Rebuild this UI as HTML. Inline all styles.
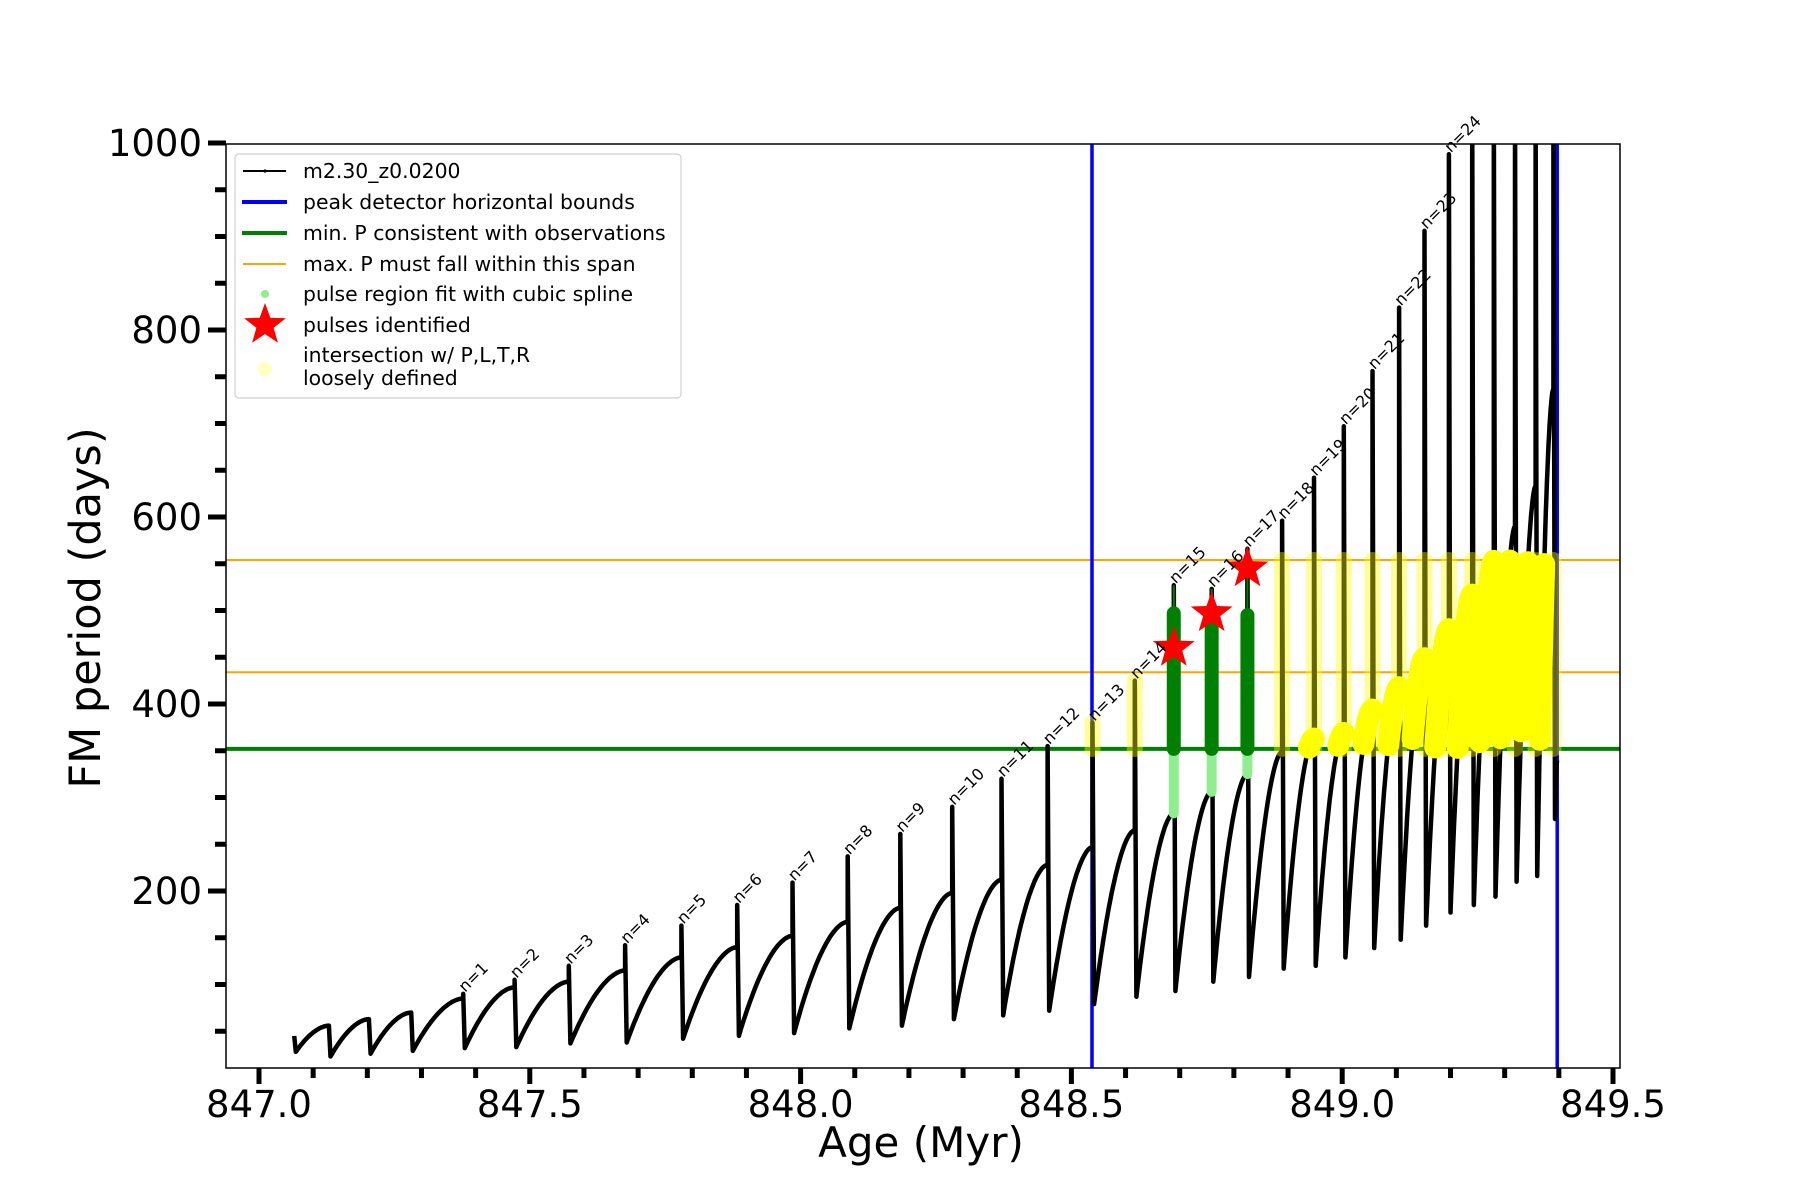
<!DOCTYPE html>
<html><head><meta charset="utf-8">
<style>
html,body{margin:0;padding:0;background:#fff;}
svg{display:block;font-family:"DejaVu Sans","Liberation Sans",sans-serif;}
</style></head>
<body>
<svg id="chart" width="1800" height="1200" viewBox="0 0 1800 1200" xmlns="http://www.w3.org/2000/svg">
<rect x="0" y="0" width="1800" height="1200" fill="#fff"/>
<g id="plot"></g>
<g id="axes"></g>
<g id="legend">
  <rect x="235" y="154" width="446" height="244" rx="4" fill="#fff" fill-opacity="0.85" stroke="#d0d0d0" stroke-width="1.2"/>
  <g>
    <line x1="243" y1="171" x2="286" y2="171" stroke="#000" stroke-width="2"/><circle cx="265" cy="171" r="1.6" fill="#000"/>
    <text x="303" y="178" font-size="20.4">m2.30_z0.0200</text></g>
  <g>
    <line x1="242" y1="202" x2="287" y2="202" stroke="#0000ff" stroke-width="4"/>
    <text x="303" y="209" font-size="20.4">peak detector horizontal bounds</text></g>
  <g>
    <line x1="242" y1="233" x2="287" y2="233" stroke="#008000" stroke-width="4"/>
    <text x="303" y="240" font-size="20.4">min. P consistent with observations</text></g>
  <g>
    <line x1="243" y1="264" x2="286" y2="264" stroke="#ffa500" stroke-width="2"/>
    <text x="303" y="271" font-size="20.4">max. P must fall within this span</text></g>
  <g>
    <circle cx="265" cy="294" r="4" fill="#90ee90"/>
    <text x="303" y="301" font-size="20.4">pulse region fit with cubic spline</text></g>
  <g>
    <polygon id="legstar" fill="#ff0000"/>
    <text x="303" y="332" font-size="20.4">pulses identified</text></g>
  <g>
    <circle cx="265" cy="369" r="7" fill="#ffff00" fill-opacity="0.25"/>
    <text x="303" y="362" font-size="20.4">intersection w/ P,L,T,R</text>
    <text x="303" y="385" font-size="20.4">loosely defined</text></g>
</g>
</svg>
<script>
// ---- data ----
const startAge = 847.065;
const startPeriod = 45;
const dropAges = [847.129,847.203,847.281,847.377,847.472,847.572,847.676,847.780,847.883,847.985,848.087,848.184,848.280,848.371,848.456,848.539,848.617,848.689,848.759,848.825,848.889,848.948,849.003,849.056,849.105,849.152,849.197,849.240,849.280,849.319,849.357,849.390];
const preDropPeak = [56,63,70,85,97,103,115,129,140,152,167,182,198,212,228,247,265,283,306,325,349,363,369,394,418,449,480,517,553,590,633,737];
const spikeTop = [0,0,0,90,105,120,142,163,185,209,237,261,290,320,355,380,425,527,523,566,596,642,697,756,824,906,988,1050,1050,1050,1050,1050];
const troughs = [23,26,29,32,33,37,38,42,45,48,53,56,63,67,72,79,87,93,103,108,117,120,129,139,148,163,177,185,194,210,216,277];
const endAge = 849.397;
const endPeriod = 340;
const labelIdx = [3,4,5,6,7,8,9,10,11,12,13,14,15,16,17,18,19,20,21,22,23,24,25,26];
const greenIdx = [17,18,19];
const greenTop = [497,491,495];
const starAges = [848.689,848.759,848.825];
const starPeriods = [460,497,545];
const blueBounds = [848.538,849.397];
const minP = 352;
const maxPSpan = [434,554];
const xTicksMajor = [847.0,847.5,848.0,848.5,849.0,849.5];
const xTickLabels = ["847.0","847.5","848.0","848.5","849.0","849.5"];
const yTicksMajor = [200,400,600,800,1000];
const yTickLabels = ["200","400","600","800","1000"];

// ---- scales ----
const L=226,R=1620,T=144,B=1068;
function X(a){return 259+(a-847)*541.6;}
function Y(p){return 143+(1000-p)*0.935;}
const NS="http://www.w3.org/2000/svg";
const plot=document.getElementById('plot');
const axes=document.getElementById('axes');
function mk(tag,attrs,parent){const e=document.createElementNS(NS,tag);for(const k in attrs)e.setAttribute(k,attrs[k]);(parent||plot).appendChild(e);return e;}
function clamp(p){return Math.max(Math.min(p,1060),5);}

const defs=mk('defs',{});
const cp=mk('clipPath',{id:'clip'},defs);
mk('rect',{x:L,y:T,width:R-L,height:B-T},cp);
const g=mk('g',{'clip-path':'url(#clip)'});

let ln;
ln=mk('line',{x1:L,x2:R,y1:Y(minP),y2:Y(minP),stroke:'#008000','stroke-width':4},g);

maxPSpan.forEach((p,i)=>{const l=mk('line',{x1:L,x2:R,y1:Y(p),y2:Y(p),stroke:'#ffa500','stroke-width':2},g);

});
blueBounds.forEach(a=>{const l=mk('line',{x1:X(a),x2:X(a),y1:T,y2:B,stroke:'#0000ff','stroke-width':3.5},g);

});

function shape(u){return 1-Math.pow(1-u,1.8);}
let d='M'+X(startAge)+','+Y(startPeriod)+' L'+X(startAge+0.003)+','+Y(28);
let prevAge=startAge+0.003, prevP=28;
const segs=[];
for(let i=0;i<dropAges.length;i++){
  const a0=prevAge,a1=dropAges[i],p0=prevP,p1=preDropPeak[i];
  const pts=[];
  for(let k=1;k<=30;k++){const u=k/30;pts.push([a0+(a1-a0)*u,p0+(p1-p0)*shape(u)]);}
  segs.push([[a0,p0]].concat(pts));
  pts.forEach(q=>{d+=' L'+X(q[0]).toFixed(1)+','+Y(q[1]).toFixed(1);});
  const top=spikeTop[i]||preDropPeak[i];
  d+=' L'+X(a1).toFixed(1)+','+Y(clamp(top)).toFixed(1);
  d+=' L'+X(a1+0.003).toFixed(1)+','+Y(troughs[i]).toFixed(1);
  prevAge=a1+0.003;prevP=troughs[i];
}
{const pts=[];for(let k=1;k<=10;k++){const u=k/10;pts.push([prevAge+(endAge-prevAge)*u,prevP+(endPeriod-prevP)*shape(u)]);}
pts.forEach(q=>{d+=' L'+X(q[0]).toFixed(1)+','+Y(q[1]).toFixed(1);});}
const curve=mk('path',{d:d,fill:'none',stroke:'#000','stroke-width':4.5,'stroke-linejoin':'round'},g);



for(let i=0;i<dropAges.length;i++){
  if(dropAges[i]<blueBounds[0]-0.01||dropAges[i]>blueBounds[1])continue;
  if(greenIdx.indexOf(i)>=0)continue;
  const top=Math.min(spikeTop[i]||0,maxPSpan[1]);
  if(top<=minP)continue;
  const c=mk('line',{x1:X(dropAges[i]),x2:X(dropAges[i]),y1:Y(minP),y2:Y(top),stroke:'#ffff00','stroke-width':16,'stroke-opacity':0.4,'stroke-linecap':'round'},g);
  
  
}
segs.forEach((s,i)=>{
  const a1=dropAges[i];
  if(a1<blueBounds[0])return;
  let path='',on=false;
  s.forEach(q=>{
    if(q[1]>=minP&&q[1]<=maxPSpan[1]+6){path+=(on?' L':' M')+X(q[0]).toFixed(1)+','+Y(q[1]).toFixed(1);on=true;}else on=false;
  });
  if(path){const y=mk('path',{d:path,fill:'none',stroke:'#ffff00','stroke-width':22,'stroke-linecap':'round','stroke-linejoin':'round'},g);
  
  }
});

greenIdx.forEach((i,k)=>{
  const x=X(dropAges[i]);
  const lg=mk('line',{x1:x,x2:x,y1:Y(preDropPeak[i]),y2:Y(minP),stroke:'#90ee90','stroke-width':10,'stroke-linecap':'round'},g);
  
  
  const th=mk('line',{x1:x,x2:x,y1:Y(minP),y2:Y(spikeTop[i]),stroke:'#008000','stroke-width':2},g);
  
  
  const gc=mk('line',{x1:x,x2:x,y1:Y(minP),y2:Y(greenTop[k]),stroke:'#008000','stroke-width':14,'stroke-linecap':'round'},g);
  
  
});
function starPts(cx,cy,ro,ri){let s=[];for(let k=0;k<10;k++){const r=k%2?ri:ro;const ang=-Math.PI/2+k*Math.PI/5;s.push((cx+r*Math.cos(ang)).toFixed(1)+','+(cy+r*Math.sin(ang)).toFixed(1));}return s.join(' ');}
starAges.forEach((a,k)=>{
  const s=mk('polygon',{points:starPts(X(a),Y(starPeriods[k]),22,9),fill:'#ff0000'},g);
  
  
});
document.getElementById('legstar').setAttribute('points',starPts(265,325,22,9));

labelIdx.forEach((i,k)=>{
  const a=dropAges[i];const p=Math.min(spikeTop[i]||preDropPeak[i],1000);
  const x=X(a)+2,y=Y(p)-1;
  const t=mk('text',{x:x,y:y,'font-size':16,transform:'rotate(-45 '+x+' '+y+')'},plot);
  t.textContent='n='+(k+1);
  
  
});

mk('rect',{x:L,y:T,width:R-L,height:B-T,fill:'none',stroke:'#000','stroke-width':1.5},axes);
for(let k=0;k<=25;k++){const a=847+k*0.1;const maj=(k%5===0);
  const t=mk('line',{x1:X(a),x2:X(a),y1:B,y2:B+(maj?16:10),stroke:'#000','stroke-width':5},axes);
  }
xTicksMajor.forEach((a,k)=>{const t=mk('text',{x:X(a),y:1117,'font-size':37,'text-anchor':'middle'},axes);t.textContent=xTickLabels[k];
  });
for(let p=50;p<=1000;p+=50){const maj=(p%200===0);
  const t=mk('line',{x1:L-(maj?18:11),x2:L,y1:Y(p),y2:Y(p),stroke:'#000','stroke-width':5},axes);
  }
yTicksMajor.forEach((p,k)=>{const t=mk('text',{x:202,y:Y(p)+13,'font-size':37,'text-anchor':'end'},axes);t.textContent=yTickLabels[k];
  });
let xt=mk('text',{x:921,y:1157,'font-size':42,'text-anchor':'middle'},axes);xt.textContent='Age (Myr)';

let yt=mk('text',{x:100,y:608,'font-size':43,'text-anchor':'middle',transform:'rotate(-90 100 608)'},axes);yt.textContent='FM period (days)';

</script>
</body></html>
